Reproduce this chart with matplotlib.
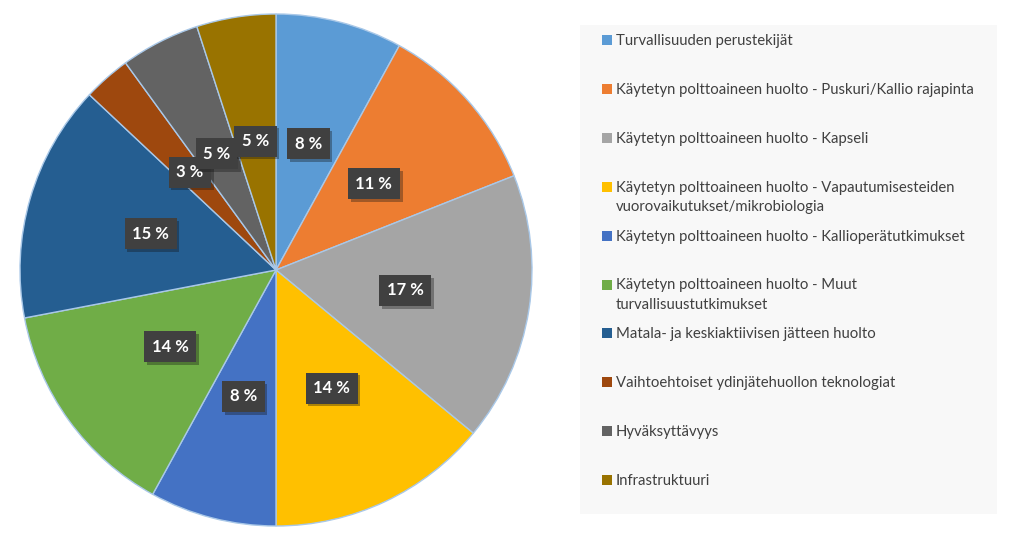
import matplotlib.pyplot as plt
from matplotlib.patches import Rectangle
import matplotlib.patheffects as pe

plt.rcParams['font.family'] = ['Lato', 'DejaVu Sans']

categories = [
    "Turvallisuuden perustekijät",
    "Käytetyn polttoaineen huolto - Puskuri/Kallio rajapinta",
    "Käytetyn polttoaineen huolto - Kapseli",
    "Käytetyn polttoaineen huolto - Vapautumisesteiden\nvuorovaikutukset/mikrobiologia",
    "Käytetyn polttoaineen huolto - Kallioperätutkimukset",
    "Käytetyn polttoaineen huolto - Muut\nturvallisuustutkimukset",
    "Matala- ja keskiaktiivisen jätteen huolto",
    "Vaihtoehtoiset ydinjätehuollon teknologiat",
    "Hyväksyttävyys",
    "Infrastruktuuri",
]
values = [8, 11, 17, 14, 8, 14, 15, 3, 5, 5]
colors = ['#5B9BD5', '#ED7D31', '#A5A5A5', '#FFC000', '#4472C4',
          '#70AD47', '#255E91', '#9E480E', '#636363', '#997300']

W, H = 1024, 536
fig = plt.figure(figsize=(W / 100, H / 100), dpi=100)
fig.patch.set_facecolor('white')

# pie axes, centre (276,270) radius 256 px
cx, cy, r = 276, 270, 256
half = 262
ax = fig.add_axes([(cx - half) / W, (H - cy - half) / H, 2 * half / W, 2 * half / H])

wedges, texts, autotexts = ax.pie(
    values, colors=colors, startangle=90, counterclock=False, radius=1,
    autopct=lambda p: f"{p:.0f} %", pctdistance=0.51,
    wedgeprops=dict(edgecolor='#a9c8e8', linewidth=1.0),
)
ax.set_xlim(-half / r, half / r)
ax.set_ylim(-half / r, half / r)
ax.set_aspect('equal')
ax.axis('off')
for t in autotexts:
    t.set_color('white')
    t.set_fontsize(12)
    t.set_fontweight('bold')
    t.set_bbox(dict(facecolor='#404040', edgecolor='none',
                    boxstyle='square,pad=0.45'))
    t.get_bbox_patch().set_path_effects(
        [pe.SimplePatchShadow(offset=(2, -2), alpha=0.35), pe.Normal()])

# legend area
lx0, ly0, lx1, ly1 = 580, 25, 997, 514
lax = fig.add_axes([lx0 / W, (H - ly1) / H, (lx1 - lx0) / W, (ly1 - ly0) / H])
lax.set_xlim(lx0, lx1)
lax.set_ylim(ly1, ly0)
lax.axis('off')
lax.add_patch(Rectangle((lx0, ly0), lx1 - lx0, ly1 - ly0, facecolor='#f8f8f8',
                        edgecolor='none'))
for i, (lab, c) in enumerate(zip(categories, colors)):
    y = 40 + i * 48.9
    lax.add_patch(Rectangle((602, y - 5), 10, 10, facecolor=c, edgecolor='none'))
    lax.text(616, y - 6, lab, fontsize=10.7, color='#404040', va='top', ha='left',
             linespacing=1.5)

fig.savefig('out.png', dpi=100)
